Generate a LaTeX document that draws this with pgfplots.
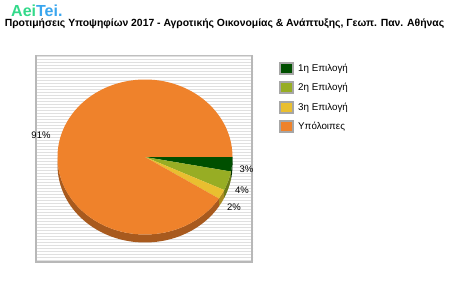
\documentclass[border=0pt]{standalone}
\usepackage{pgfplots}
\pgfplotsset{compat=1.18}
\usepackage{pgfplotstable}
\usepackage{fontspec}
\setmainfont{Liberation Sans}
\usetikzlibrary{patterns}
\definecolor{cA}{HTML}{004F00}
\definecolor{cB}{HTML}{97AD24}
\definecolor{cC}{HTML}{E9BF30}
\definecolor{cD}{HTML}{EF822B}
\definecolor{sA}{HTML}{003300}
\definecolor{sB}{HTML}{6B7B18}
\definecolor{sC}{HTML}{A88A20}
\definecolor{sD}{HTML}{A85A1E}
\definecolor{logoA}{HTML}{33D98A}
\definecolor{logoB}{HTML}{3AA6EE}
\pgfplotstableread{
slice value
1 3
2 4
3 2
4 91
}\piedata
\begin{document}%
\begin{tikzpicture}
\pgfplotstablegetelem{0}{value}\of\piedata \let\vA\pgfplotsretval
\pgfplotstablegetelem{1}{value}\of\piedata \let\vB\pgfplotsretval
\pgfplotstablegetelem{2}{value}\of\piedata \let\vC\pgfplotsretval
\pgfmathsetmacro\aA{-3.6*\vA}
\pgfmathsetmacro\aB{\aA-3.6*\vB}
\pgfmathsetmacro\aC{\aB-3.6*\vC}
\begin{axis}[name=ax,x=1pt,y=1pt,xmin=0,xmax=450,ymin=0,ymax=300,hide axis,clip=false,scale only axis,enlargelimits=false]
\coordinate (LL) at (axis cs:0,0);
\coordinate (UR) at (axis cs:450,300);
% plot box
\fill[white] (axis cs:35,37) rectangle (axis cs:253,245);
\fill[pattern=horizontal lines, pattern color=black!12] (axis cs:35,37) rectangle (axis cs:253,245);
\draw[black!25, line width=0.8pt] (axis cs:35,245) -- (axis cs:253,245);
\draw[black!28, line width=1.6pt] (axis cs:36,37) -- (axis cs:36,245);
\draw[black!28, line width=1.6pt] (axis cs:252,37) -- (axis cs:252,245);
\draw[black!28, line width=1.6pt] (axis cs:35,38) -- (axis cs:253,38);
% pie sides
\fill[sA] (axis cs:232.5,143) arc[start angle=0,end angle=\aA,x radius=87.5pt,y radius=77.5pt] -- ++(0pt,-8pt) arc[start angle=\aA,end angle=0,x radius=87.5pt,y radius=77.5pt] -- cycle;
\fill[sB] (axis cs:{145+87.5*cos(\aA)},{143+77.5*sin(\aA)}) arc[start angle=\aA,end angle=\aB,x radius=87.5pt,y radius=77.5pt] -- ++(0pt,-8pt) arc[start angle=\aB,end angle=\aA,x radius=87.5pt,y radius=77.5pt] -- cycle;
\fill[sC] (axis cs:{145+87.5*cos(\aB)},{143+77.5*sin(\aB)}) arc[start angle=\aB,end angle=\aC,x radius=87.5pt,y radius=77.5pt] -- ++(0pt,-8pt) arc[start angle=\aC,end angle=\aB,x radius=87.5pt,y radius=77.5pt] -- cycle;
\fill[sD] (axis cs:{145+87.5*cos(\aC)},{143+77.5*sin(\aC)}) arc[start angle=\aC,end angle=-180,x radius=87.5pt,y radius=77.5pt] -- ++(0pt,-8pt) arc[start angle=-180,end angle=\aC,x radius=87.5pt,y radius=77.5pt] -- cycle;
% pie tops
\fill[cA] (axis cs:145,143) -- (axis cs:232.5,143) arc[start angle=0,end angle=\aA,x radius=87.5pt,y radius=77.5pt] -- cycle;
\fill[cB] (axis cs:145,143) -- (axis cs:{145+87.5*cos(\aA)},{143+77.5*sin(\aA)}) arc[start angle=\aA,end angle=\aB,x radius=87.5pt,y radius=77.5pt] -- cycle;
\fill[cC] (axis cs:145,143) -- (axis cs:{145+87.5*cos(\aB)},{143+77.5*sin(\aB)}) arc[start angle=\aB,end angle=\aC,x radius=87.5pt,y radius=77.5pt] -- cycle;
\fill[cD] (axis cs:145,143) -- (axis cs:{145+87.5*cos(\aC)},{143+77.5*sin(\aC)}) arc[start angle=\aC,end angle=-360,x radius=87.5pt,y radius=77.5pt] -- cycle;
% slice labels
\node[font=\fontsize{9.5}{10}\selectfont, inner sep=0pt] at (axis cs:246.5,131) {3\%};
\node[font=\fontsize{9.5}{10}\selectfont, inner sep=0pt] at (axis cs:242,110) {4\%};
\node[font=\fontsize{9.5}{10}\selectfont, inner sep=0pt] at (axis cs:234,93) {2\%};
\node[font=\fontsize{9.5}{10}\selectfont, inner sep=0pt] at (axis cs:41,165) {91\%};
% title and logo
\node[anchor=west, inner sep=0pt, font=\fontsize{16}{16}\selectfont\bfseries] at (axis cs:11,289) {\textcolor{logoA}{Aei}\textcolor{logoB}{Tei.}};
\node[inner sep=0pt, font=\fontsize{10.4}{12}\selectfont\bfseries] at (axis cs:224.5,276) {Προτιμήσεις Υποψηφίων 2017 - Αγροτικής Οικονομίας \& Ανάπτυξης, Γεωπ. Παν. Αθήνας};
% legend
\foreach \yy/\cc/\ll in {231/cA/{1η Επιλογή},212/cB/{2η Επιλογή},192/cC/{3η Επιλογή},173/cD/{Υπόλοιπες}}{
  \edef\tmp{\noexpand\fill[black!35] (axis cs:279,\yy-6.5) rectangle (axis cs:294,\yy+6.5);
  \noexpand\fill[\cc] (axis cs:281,\yy-4.5) rectangle (axis cs:292,\yy+4.5);
  \noexpand\node[anchor=west, inner sep=0pt, font=\noexpand\fontsize{9.8}{10}\noexpand\selectfont] at (axis cs:298,\yy) {\ll};}
  \tmp
}
\end{axis}
\pgfresetboundingbox
\path (LL) rectangle (UR);
\end{tikzpicture}%
\end{document}
